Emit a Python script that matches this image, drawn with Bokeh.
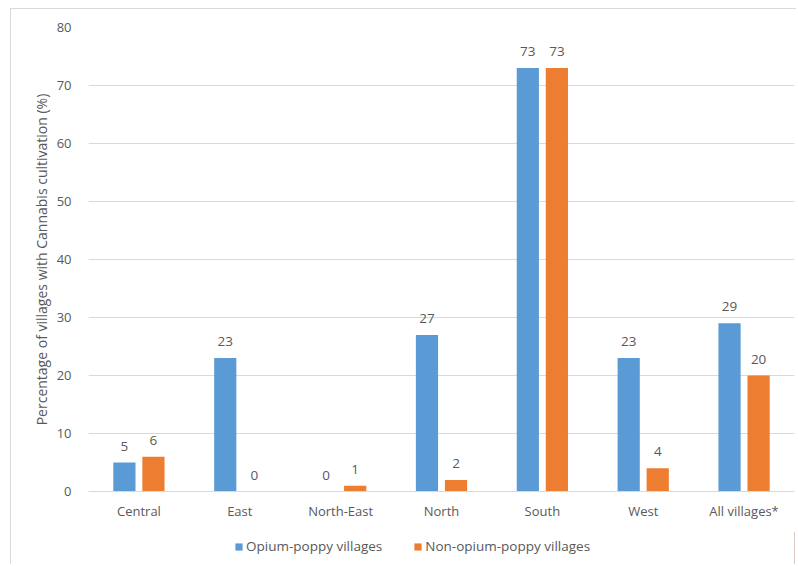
from bokeh.plotting import figure
from bokeh.layouts import column
from bokeh.models import ColumnDataSource, Range1d, FactorRange, Legend, LegendItem
from bokeh.transform import dodge
from bokeh.core.properties import value
from bokeh.embed import file_html
from bokeh.resources import INLINE

regions = ["Central", "East", "North-East", "North", "South", "West", "All villages*"]
opium = [5, 23, 0, 27, 73, 23, 29]
non_opium = [6, 0, 1, 2, 73, 4, 20]
series_names = ["Opium-poppy villages", "Non-opium-poppy villages"]
y_ticks = [0, 10, 20, 30, 40, 50, 60, 70, 80]

BLUE = "#5b9bd5"
ORANGE = "#ed7d31"
FONT = "Open Sans"
TXT = "#595959"

src = ColumnDataSource(dict(
    cat=regions, a=opium, b=non_opium,
    la=[str(v) for v in opium], lb=[str(v) for v in non_opium],
))

p = figure(
    width=785, height=522, output_backend="svg", toolbar_location=None,
    x_range=FactorRange(*regions), y_range=Range1d(0, 80),
    min_border_left=77, min_border_right=2, min_border_top=18, min_border_bottom=40,
    background_fill_color="white", border_fill_color="white",
)
p.outline_line_color = None

off = 0.144
w = 0.22
p.vbar(x=dodge("cat", -off, range=p.x_range), top="a", width=w, source=src,
       fill_color=BLUE, line_color=None)
p.vbar(x=dodge("cat", off, range=p.x_range), top="b", width=w, source=src,
       fill_color=ORANGE, line_color=None)

for col, lcol, o in (("a", "la", -off), ("b", "lb", off)):
    p.text(x=dodge("cat", o, range=p.x_range), y=col, text=lcol, source=src,
           text_align="center", text_baseline="bottom", y_offset=-12,
           text_font=value(FONT), text_font_size="13.5px", text_color=TXT)

# axes
p.yaxis.ticker = y_ticks
p.yaxis.axis_line_color = None
p.yaxis.major_tick_line_color = None
p.yaxis.minor_tick_line_color = None
p.yaxis.major_label_standoff = 11
p.yaxis.major_label_text_font = FONT
p.yaxis.major_label_text_font_size = "13px"
p.yaxis.major_label_text_color = TXT
p.yaxis.axis_label = "Percentage of villages with Cannabis cultivation (%)"
p.yaxis.axis_label_text_font = FONT
p.yaxis.axis_label_text_font_size = "14px"
p.yaxis.axis_label_text_font_style = "normal"
p.yaxis.axis_label_text_color = TXT
p.yaxis.axis_label_standoff = 3

p.xaxis.axis_line_color = "#d9d9d9"
p.xaxis.major_tick_line_color = None
p.xaxis.minor_tick_line_color = None
p.xaxis.major_label_standoff = 4
p.xaxis.major_label_text_font = FONT
p.xaxis.major_label_text_font_size = "13px"
p.xaxis.major_label_text_color = TXT

p.xgrid.grid_line_color = None
p.ygrid.grid_line_color = "#d9d9d9"
p.ygrid.ticker = y_ticks

# legend strip below the chart
lf = figure(
    width=785, height=33, output_backend="svg", toolbar_location=None,
    x_range=Range1d(0, 1), y_range=Range1d(0, 1),
    x_axis_type=None, y_axis_type=None,
    min_border_left=0, min_border_right=0, min_border_top=0, min_border_bottom=0,
    background_fill_color="white", border_fill_color="white",
)
lf.outline_line_color = None
lf.xgrid.visible = False
lf.ygrid.visible = False
# swatch renderers for the legend; their single bar sits outside the visible range
la = lf.vbar(x=[5], top=[1], width=0.1, fill_color=BLUE, line_color=None)
lb = lf.vbar(x=[5], top=[1], width=0.1, fill_color=ORANGE, line_color=None)

legend = Legend(
    items=[LegendItem(label=series_names[0], renderers=[la]),
           LegendItem(label=series_names[1], renderers=[lb])],
    orientation="horizontal", location=(146, 9),
    label_text_font=FONT, label_text_font_size="13.5px", label_text_color=TXT,
    glyph_width=9, glyph_height=9, label_standoff=3, spacing=31,
    border_line_color=None, background_fill_alpha=0, padding=4, margin=0,
)
lf.add_layout(legend, "center")

layout = column(p, lf, spacing=0, styles={
    "margin-left": "10px", "margin-top": "8px",
    "border-left": "1px solid #d9d9d9", "border-top": "1px solid #d9d9d9"})

open("out.html", "w").write(file_html(layout, INLINE))
